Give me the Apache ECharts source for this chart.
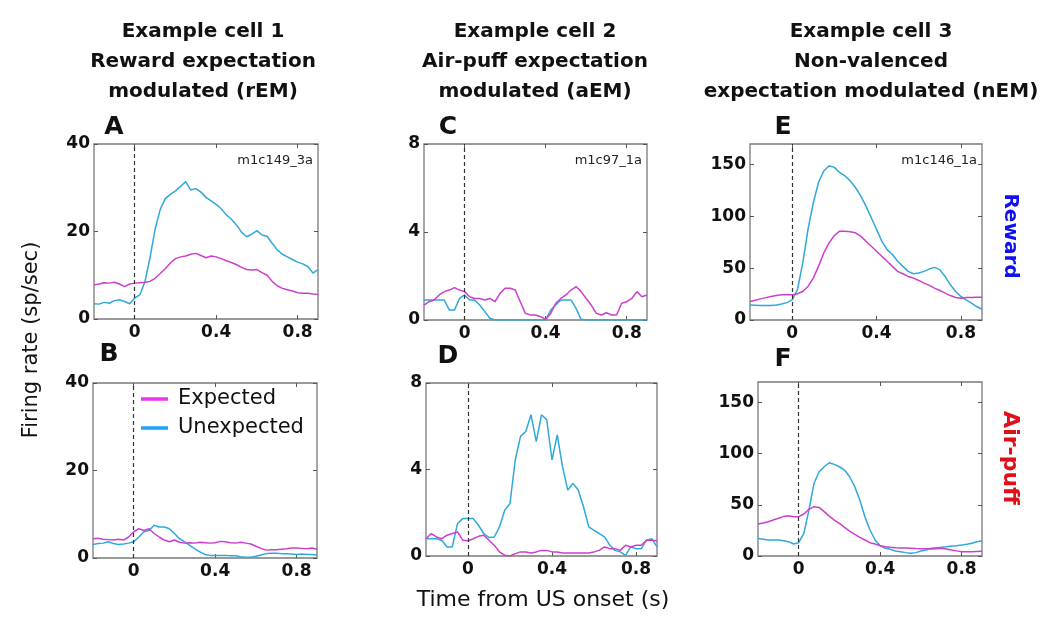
<!DOCTYPE html>
<html>
<head>
<meta charset="utf-8">
<script src="https://cdn.jsdelivr.net/npm/echarts@6/dist/echarts.min.js"></script>
<style>
html,body{margin:0;padding:0;background:#fff;}
#chart{width:1047px;height:620px;}
</style>
</head>
<body>
<div id="chart"></div>
<script>
// ---- data ----
const time = [-0.2,-0.175,-0.15,-0.125,-0.1,-0.075,-0.05,-0.025,0,0.025,0.05,0.075,0.1,0.125,0.15,0.175,0.2,0.225,0.25,0.275,0.3,0.325,0.35,0.375,0.4,0.425,0.45,0.475,0.5,0.525,0.55,0.575,0.6,0.625,0.65,0.675,0.7,0.725,0.75,0.775,0.8,0.825,0.85,0.875,0.9];

const A_expected = [7.8,8.0,8.3,8.2,8.4,8.0,7.4,8.0,8.2,8.3,8.4,8.6,9.3,10.4,11.5,12.8,13.8,14.2,14.4,14.8,15.0,14.5,14.0,14.4,14.2,13.8,13.3,12.9,12.4,11.8,11.3,11.2,11.3,10.6,10.0,8.6,7.6,7.0,6.7,6.4,6.0,5.9,5.9,5.7,5.6];
const A_unexpected = [3.5,3.4,3.8,3.6,4.2,4.4,4.0,3.5,4.8,5.5,8.5,14.0,20.5,25.0,27.5,28.5,29.3,30.3,31.4,29.5,29.8,29.0,27.8,27.0,26.2,25.2,23.8,22.8,21.5,19.8,18.8,19.4,20.2,19.2,18.9,17.3,15.8,14.8,14.2,13.6,13.0,12.6,12.0,10.5,11.3];

const B_expected = [4.4,4.5,4.3,4.2,4.1,4.3,4.1,4.8,6.0,6.7,6.3,6.7,5.6,4.8,4.1,3.7,4.1,3.6,3.4,3.5,3.4,3.6,3.5,3.4,3.5,3.8,3.7,3.5,3.4,3.6,3.4,3.2,2.7,2.2,1.8,1.9,1.9,2.0,2.1,2.3,2.3,2.2,2.1,2.3,2.0];
const B_unexpected = [3.1,3.3,3.4,3.7,3.3,3.1,3.2,3.4,3.7,4.8,6.0,6.3,7.5,7.1,7.1,6.7,5.6,4.4,3.7,2.9,2.1,1.4,0.8,0.6,0.6,0.6,0.6,0.5,0.5,0.3,0.2,0.2,0.4,0.7,1.0,1.1,1.1,1.0,1.0,0.9,0.8,0.9,0.8,0.8,0.7];

const C_expected = [0.68,0.83,0.91,1.14,1.29,1.36,1.47,1.36,1.29,1.06,0.98,0.98,0.91,0.98,0.83,1.21,1.44,1.44,1.36,0.83,0.30,0.23,0.23,0.15,0.03,0.30,0.76,0.98,1.14,1.36,1.52,1.29,0.98,0.68,0.30,0.23,0.33,0.23,0.23,0.76,0.83,0.98,1.29,1.06,1.14];
const C_unexpected = [0.91,0.91,0.91,0.91,0.91,0.45,0.45,0.98,1.14,0.91,0.91,0.68,0.38,0.08,0,0,0,0,0,0,0,0,0,0,0,0.45,0.68,0.91,0.91,0.91,0.53,0.03,0,0,0,0,0,0,0,0,0,0,0,0,0];

const D_expected = [0.80,1.04,0.88,0.80,0.96,1.04,1.11,0.73,0.70,0.80,0.91,0.96,0.73,0.50,0.19,0.03,0,0.11,0.19,0.19,0.14,0.19,0.26,0.26,0.19,0.19,0.14,0.14,0.14,0.14,0.14,0.14,0.19,0.26,0.42,0.34,0.34,0.26,0.50,0.42,0.50,0.50,0.73,0.73,0.70];
const D_unexpected = [0.80,0.80,0.80,0.73,0.42,0.42,1.50,1.73,1.73,1.73,1.42,1.04,0.85,0.88,1.35,2.12,2.43,4.44,5.53,5.76,6.53,5.29,6.53,6.30,4.44,5.60,4.13,3.05,3.36,3.05,2.28,1.35,1.19,1.04,0.88,0.50,0.26,0.19,0.03,0.42,0.34,0.34,0.73,0.80,0.42];

const E_expected = [17.8,19.0,20.4,21.6,22.7,23.6,24.3,24.3,24.3,25.3,27.5,32.4,40.5,51.8,64.8,74.5,81.6,85.8,85.8,85.2,84.2,81.0,76.1,71.3,66.4,61.5,56.7,51.8,47.0,44.7,42.1,40.5,38.2,35.6,33.4,30.8,28.5,25.9,23.6,21.7,21.1,21.7,21.7,22.0,22.0];
const E_unexpected = [14.6,14.3,13.9,13.9,13.9,14.5,15.5,16.8,19.4,29.2,55.0,87.5,113.0,133.0,144.0,149.0,147.4,142.5,139.3,134.4,128.0,119.9,110.0,98.8,87.5,76.1,68.0,63.2,56.7,51.8,47.0,44.7,45.4,47.0,49.2,50.8,48.6,42.1,34.0,27.5,22.7,19.4,16.2,13.0,10.4];

const F_expected = [31.2,32.3,33.5,35.2,36.8,38.5,39.4,38.4,38.4,41.0,45.6,48.2,47.5,43.3,39.0,35.1,31.9,28.0,24.4,21.2,18.2,15.6,13.0,11.7,10.1,9.1,8.5,8.1,7.8,7.7,7.5,7.3,7.2,7.0,6.8,7.2,7.5,6.8,5.9,5.0,4.2,4.2,4.2,4.4,4.6];
const F_unexpected = [17.2,16.4,15.6,15.6,15.6,14.8,14.0,11.7,13.0,22.1,44.9,70.9,82.3,87.2,91.1,89.5,87.2,84.0,77.4,67.7,54.7,38.4,25.4,15.6,10.1,7.5,6.5,4.9,4.2,3.3,2.6,3.3,4.9,5.9,7.5,8.1,8.5,9.1,9.8,10.1,10.7,11.4,12.4,14.0,15.0];

const xTicks = [0, 0.4, 0.8];
const yTicks12 = [0, 20, 40];
const yTicks34 = [0, 4, 8];
const yTicks56 = [0, 50, 100, 150];
const yMax = [40, 40, 8, 8, 170, 170];

const columnTitles = [
  ["Example cell 1", "Reward expectation", "modulated (rEM)"],
  ["Example cell 2", "Air-puff expectation", "modulated (aEM)"],
  ["Example cell 3", "Non-valenced", "expectation modulated (nEM)"]
];
const panelLetters = ["A", "B", "C", "D", "E", "F"];
const cellIds = ["m1c149_3a", "", "m1c97_1a", "", "m1c146_1a", ""];
const legendNames = ["Expected", "Unexpected"];

// ---- layout ----
const MAG = '#cc3fcc', CYA = '#2fa8dc';
const FONT = '"DejaVu Sans", "Liberation Sans", sans-serif';
const grids = [
  {left: 94, top: 144, width: 224, height: 175},
  {left: 93, top: 383, width: 224, height: 175},
  {left: 424, top: 144, width: 223, height: 176},
  {left: 426, top: 383, width: 231, height: 173},
  {left: 750, top: 144, width: 232, height: 176},
  {left: 758, top: 382, width: 224, height: 174}
];
const panelData = [
  [A_expected, A_unexpected],
  [B_expected, B_unexpected],
  [C_expected, C_unexpected],
  [D_expected, D_unexpected],
  [E_expected, E_unexpected],
  [F_expected, F_unexpected]
];
const yTickSets = [yTicks12, yTicks12, yTicks34, yTicks34, yTicks56, yTicks56];

const gridOpts = [], xAxes = [], yAxes = [], series = [];
const tickStyle = {show: true, inside: true, length: 4, lineStyle: {color: '#555', width: 1}};
const noLine = {show: false, onZero: false};
grids.forEach((g, i) => {
  gridOpts.push(Object.assign({show: true, borderColor: '#7a7a7a', borderWidth: 1.3, backgroundColor: 'transparent', containLabel: false}, g));
  xAxes.push({type: 'value', gridIndex: i, position: 'bottom', min: -0.2, max: 0.9,
    axisLine: noLine, splitLine: {show: false},
    axisTick: Object.assign({customValues: xTicks}, tickStyle),
    axisLabel: {customValues: xTicks, margin: 5, color: '#111', fontSize: 17, fontWeight: 'bold', fontFamily: FONT}});
  xAxes.push({type: 'value', gridIndex: i, position: 'top', min: -0.2, max: 0.9,
    axisLine: noLine, splitLine: {show: false},
    axisTick: Object.assign({customValues: xTicks}, tickStyle),
    axisLabel: {show: false}});
  yAxes.push({type: 'value', gridIndex: i, position: 'left', min: 0, max: yMax[i],
    axisLine: noLine, splitLine: {show: false},
    axisTick: Object.assign({customValues: yTickSets[i]}, tickStyle),
    axisLabel: {customValues: yTickSets[i], margin: 4, color: '#111', fontSize: 17, fontWeight: 'bold', fontFamily: FONT}});
  yAxes.push({type: 'value', gridIndex: i, position: 'right', min: 0, max: yMax[i],
    axisLine: noLine, splitLine: {show: false},
    axisTick: Object.assign({customValues: yTickSets[i]}, tickStyle),
    axisLabel: {show: false}});
  const [exp, unexp] = panelData[i];
  series.push({type: 'line', xAxisIndex: 2 * i, yAxisIndex: 2 * i, showSymbol: false, animation: false,
    lineStyle: {color: MAG, width: 1.5}, itemStyle: {color: MAG}, z: 3,
    data: time.map((t, k) => [t, exp[k]]),
    markLine: {silent: true, symbol: ['none', 'none'], label: {show: false}, animation: false,
      lineStyle: {type: [4, 3], color: '#333', width: 1.2}, data: [{xAxis: 0}]}});
  series.push({type: 'line', xAxisIndex: 2 * i, yAxisIndex: 2 * i, showSymbol: false, animation: false,
    lineStyle: {color: CYA, width: 1.5}, itemStyle: {color: CYA}, z: 2,
    data: time.map((t, k) => [t, unexp[k]])});
});

// ---- text graphics ----
const graphic = [];
const colCenters = [203, 535, 871];
const lineY = [32, 62, 92];
columnTitles.forEach((lines, c) => {
  lines.forEach((txt, l) => {
    graphic.push({type: 'text', style: {text: txt, x: colCenters[c], y: lineY[l], textAlign: 'center', textVerticalAlign: 'middle',
      font: 'bold 20px ' + FONT, fill: '#111'}});
  });
});
const letterPos = [[114, 127], [109, 354], [448, 127], [448, 356], [783, 127], [783, 359]];
panelLetters.forEach((L, i) => {
  graphic.push({type: 'text', style: {text: L, x: letterPos[i][0], y: letterPos[i][1], textAlign: 'center', textVerticalAlign: 'middle',
    font: 'bold 25px ' + FONT, fill: '#111'}});
});
cellIds.forEach((id, i) => {
  if (!id) return;
  const g = grids[i];
  graphic.push({type: 'text', style: {text: id, x: g.left + g.width - 5, y: 161, textAlign: 'right', textVerticalAlign: 'middle',
    font: '13px ' + FONT, fill: '#222'}});
});
graphic.push({type: 'text', x: 32, y: 340, rotation: Math.PI / 2,
  style: {text: 'Firing rate (sp/sec)', x: 0, y: 0, textAlign: 'center', textVerticalAlign: 'middle', font: '21px ' + FONT, fill: '#111'}});
graphic.push({type: 'text', style: {text: 'Time from US onset (s)', x: 543, y: 600, textAlign: 'center', textVerticalAlign: 'middle',
  font: '22px ' + FONT, fill: '#111'}});
graphic.push({type: 'text', x: 1010, y: 236, rotation: -Math.PI / 2,
  style: {text: 'Reward', x: 0, y: 0, textAlign: 'center', textVerticalAlign: 'middle', font: 'bold 20px ' + FONT, fill: '#1010f0'}});
graphic.push({type: 'text', x: 1010, y: 458, rotation: -Math.PI / 2,
  style: {text: 'Air-puff', x: 0, y: 0, textAlign: 'center', textVerticalAlign: 'middle', font: 'bold 22px ' + FONT, fill: '#e0101a'}});
const legColors = ['#ee33ee', '#1ea6f0'];
const legY = [399, 428];
legendNames.forEach((n, i) => {
  graphic.push({type: 'line', shape: {x1: 141, y1: legY[i], x2: 168, y2: legY[i]}, style: {stroke: legColors[i], lineWidth: 3.5}});
  graphic.push({type: 'text', style: {text: n, x: 178, y: legY[i], textAlign: 'left', textVerticalAlign: 'middle', font: '21px ' + FONT, fill: '#111'}});
});

const chart = echarts.init(document.getElementById('chart'), null, {renderer: 'canvas'});
chart.setOption({
  backgroundColor: '#ffffff',
  animation: false,
  grid: gridOpts,
  xAxis: xAxes,
  yAxis: yAxes,
  series: series,
  graphic: graphic
});
</script>
</body>
</html>
